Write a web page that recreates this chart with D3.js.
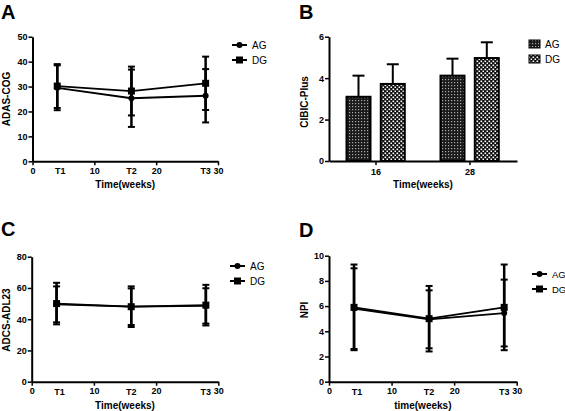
<!DOCTYPE html>
<html><head><meta charset="utf-8">
<script src="https://cdn.jsdelivr.net/npm/d3@7"></script>
<style>
body{margin:0;background:#fff;}
svg{display:block;font-family:"Liberation Sans",Arial,sans-serif;}
.tick text{font-weight:bold;font-size:9px;fill:#000;}
</style></head>
<body>
<script>
// ---- data ----
const weeks = [4, 16, 28];
const timeLabels = ["T1", "T2", "T3"];
const xTicks = [0, 10, 20, 30];
const seriesNames = ["AG", "DG"];

const adasAG = [29.5, 25.3, 26.3];
const adasAGerr = [9.0, 11.5, 10.7];
const adasDG = [30.2, 28.2, 31.3];
const adasDGerr = [8.8, 9.8, 10.7];

const adcsAG = [49.5, 48.0, 48.5];
const adcsAGerr = [11.5, 11.7, 11.3];
const adcsDG = [50.0, 48.0, 49.0];
const adcsDGerr = [13.3, 13.0, 13.0];

const npiAG = [5.8, 4.95, 5.45];
const npiAGerr = [3.2, 2.3, 2.65];
const npiDG = [5.9, 5.0, 5.9];
const npiDGerr = [3.4, 2.6, 3.4];

const cibicGroups = ["16", "28"];
const cibicAG = [3.1, 4.12];
const cibicAGerr = [1.02, 0.82];
const cibicDG = [3.72, 4.97];
const cibicDGerr = [0.95, 0.76];

const svg = d3.select("body").append("svg").attr("width", 565).attr("height", 411);

// patterns
const defs = svg.append("defs");
const pA = defs.append("pattern").attr("id", "patAG").attr("patternUnits", "userSpaceOnUse").attr("width", 3).attr("height", 3);
pA.append("rect").attr("width", 3).attr("height", 3).attr("fill", "#1a1a1a");
pA.append("rect").attr("x", 1).attr("y", 1).attr("width", 1.2).attr("height", 1.2).attr("fill", "#aaa");
const pD = defs.append("pattern").attr("id", "patDG").attr("patternUnits", "userSpaceOnUse").attr("width", 4).attr("height", 4);
pD.append("rect").attr("width", 4).attr("height", 4).attr("fill", "#111");
pD.append("rect").attr("x", 0.5).attr("y", 0.5).attr("width", 1.6).attr("height", 1.6).attr("fill", "#fff");
pD.append("rect").attr("x", 2.5).attr("y", 2.5).attr("width", 1.6).attr("height", 1.6).attr("fill", "#fff");

function styleAxis(g) {
  g.selectAll(".domain").attr("stroke", "#000").attr("stroke-width", 2);
  g.selectAll(".tick line").attr("stroke", "#000").attr("stroke-width", 1.5);
}

function title(letter, x, y) {
  svg.append("text").attr("x", x).attr("y", y).text(letter)
    .attr("font-size", 20).attr("font-weight", "bold");
}

function yLabel(txt, x, y) {
  svg.append("text").attr("transform", `translate(${x},${y}) rotate(-90)`)
    .attr("text-anchor", "middle").attr("font-size", 10).attr("font-weight", "bold").text(txt);
}

function linePanel(opt) {
  const x = d3.scaleLinear().domain([0, 30]).range(opt.xr);
  const y = d3.scaleLinear().domain([0, opt.ymax]).range(opt.yr);
  const g = svg.append("g");
  const ya = g.append("g").attr("transform", `translate(${opt.xr[0]},0)`)
    .call(d3.axisLeft(y).tickValues(opt.yticks).tickSize(4).tickPadding(1).tickSizeOuter(0));
  styleAxis(ya);
  const xa = g.append("g").attr("transform", `translate(0,${opt.yr[0]})`)
    .call(d3.axisBottom(x).tickValues(xTicks).tickSize(4).tickPadding(2).tickSizeOuter(0));
  styleAxis(xa);
  g.selectAll(".tl").data(weeks).enter().append("text")
    .attr("x", (d, i) => x(d) + (i === 0 ? 3 : 0)).attr("y", opt.yr[0] + 13)
    .attr("text-anchor", "middle").attr("font-size", 9).attr("font-weight", "bold")
    .text((d, i) => timeLabels[i]);
  g.append("text").attr("x", (opt.xr[0] + opt.xr[1]) / 2).attr("y", opt.yr[0] + 27)
    .attr("text-anchor", "middle").attr("font-size", 10).attr("font-weight", "bold").text(opt.xlabel);

  const series = [
    {name: "AG", v: opt.ag, e: opt.agErr, marker: "circle"},
    {name: "DG", v: opt.dg, e: opt.dgErr, marker: "square"}
  ];
  const line = d3.line().x((d, i) => x(weeks[i])).y(d => y(d));
  series.forEach(s => {
    s.v.forEach((v, i) => {
      const cx = x(weeks[i]);
      g.append("line").attr("x1", cx).attr("x2", cx).attr("y1", y(v + s.e[i])).attr("y2", y(v - s.e[i]))
        .attr("stroke", "#000").attr("stroke-width", 2.5);
      [v + s.e[i], v - s.e[i]].forEach(ev => {
        g.append("line").attr("x1", cx - 3.5).attr("x2", cx + 3.5).attr("y1", y(ev)).attr("y2", y(ev))
          .attr("stroke", "#000").attr("stroke-width", 2);
      });
    });
    g.append("path").datum(s.v).attr("d", line).attr("fill", "none").attr("stroke", "#000").attr("stroke-width", 1.8);
    s.v.forEach((v, i) => {
      if (s.marker === "circle") {
        g.append("circle").attr("cx", x(weeks[i])).attr("cy", y(v)).attr("r", 3).attr("fill", "#000");
      } else {
        g.append("rect").attr("x", x(weeks[i]) - 3.5).attr("y", y(v) - 3.5).attr("width", 7).attr("height", 7).attr("fill", "#000");
      }
    });
  });
  series.forEach((s, i) => {
    const ly = opt.leg[1] + i * 15;
    g.append("line").attr("x1", opt.leg[0]).attr("x2", opt.leg[0] + 15).attr("y1", ly).attr("y2", ly)
      .attr("stroke", "#000").attr("stroke-width", 2);
    const mx = opt.leg[0] + 7.5;
    if (s.marker === "circle") g.append("circle").attr("cx", mx).attr("cy", ly).attr("r", 3).attr("fill", "#000");
    else g.append("rect").attr("x", mx - 3.5).attr("y", ly - 3.5).attr("width", 7).attr("height", 7).attr("fill", "#000");
    g.append("text").attr("x", opt.leg[0] + 20).attr("y", ly + 3.5).attr("font-size", opt.legFont || 10).text(s.name);
  });
}

// Panel A
title("A", 1, 19);
yLabel("ADAS-COG", 10, 99);
linePanel({xr: [32.5, 218], yr: [161.3, 36.7], ymax: 50, yticks: [0, 10, 20, 30, 40, 50],
  ag: adasAG, agErr: adasAGerr, dg: adasDG, dgErr: adasDGerr, leg: [232, 45], xlabel: "Time(weeks)"});

// Panel C
title("C", 1, 236);
yLabel("ADCS-ADL23", 10, 320);
linePanel({xr: [31.7, 218.3], yr: [381.7, 256.7], ymax: 80, yticks: [0, 20, 40, 60, 80],
  ag: adcsAG, agErr: adcsAGerr, dg: adcsDG, dgErr: adcsDGerr, leg: [230, 266], xlabel: "Time(weeks)"});

// Panel D
title("D", 299, 237);
yLabel("NPI", 308, 310);
linePanel({xr: [329, 516.7], yr: [381.7, 255.7], ymax: 10, yticks: [0, 2, 4, 6, 8, 10],
  ag: npiAG, agErr: npiAGerr, dg: npiDG, dgErr: npiDGerr, leg: [532, 274], legFont: 9.5, xlabel: "time(weeks)"});

// Panel B
title("B", 299, 19);
yLabel("CIBIC-Plus", 308, 102);
{
  const x0 = d3.scaleBand().domain(cibicGroups).range([329, 517]).paddingInner(0).paddingOuter(0);
  const x1 = d3.scaleBand().domain(seriesNames).range([17.5, 75.8]).paddingInner(0.3).paddingOuter(0);
  const y = d3.scaleLinear().domain([0, 6]).range([161, 36.7]);
  const g = svg.append("g");
  const series = [
    {name: "AG", v: cibicAG, e: cibicAGerr, fill: "url(#patAG)"},
    {name: "DG", v: cibicDG, e: cibicDGerr, fill: "url(#patDG)"}
  ];
  series.forEach(s => {
    cibicGroups.forEach((grp, i) => {
      const bx = x0(grp) + x1(s.name);
      const bw = x1.bandwidth();
      const cx = bx + bw / 2;
      g.append("line").attr("x1", cx).attr("x2", cx).attr("y1", y(s.v[i])).attr("y2", y(s.v[i] + s.e[i]))
        .attr("stroke", "#000").attr("stroke-width", 2);
      g.append("line").attr("x1", cx - 6).attr("x2", cx + 6).attr("y1", y(s.v[i] + s.e[i])).attr("y2", y(s.v[i] + s.e[i]))
        .attr("stroke", "#000").attr("stroke-width", 2);
      g.append("rect").attr("x", bx).attr("y", y(s.v[i])).attr("width", bw).attr("height", y(0) - y(s.v[i]))
        .attr("fill", s.fill).attr("stroke", "#000").attr("stroke-width", 2);
    });
  });
  const ya = g.append("g").attr("transform", "translate(329,0)")
    .call(d3.axisLeft(y).tickValues([0, 2, 4, 6]).tickFormat(d3.format("d")).tickSize(4).tickPadding(1).tickSizeOuter(0));
  styleAxis(ya);
  const xa = g.append("g").attr("transform", "translate(0,161)")
    .call(d3.axisBottom(x0).tickSize(4).tickPadding(4).tickSizeOuter(0));
  styleAxis(xa);
  xa.selectAll(".tick text").attr("font-weight", "normal").attr("font-size", 11);
  g.append("text").attr("x", 423).attr("y", 188).attr("text-anchor", "middle")
    .attr("font-size", 10).attr("font-weight", "bold").text("Time(weeks)");
  series.forEach((s, i) => {
    const ly = 44 + i * 15;
    g.append("rect").attr("x", 529).attr("y", ly - 4).attr("width", 11).attr("height", 8)
      .attr("fill", s.fill).attr("stroke", "#000").attr("stroke-width", 1);
    g.append("text").attr("x", 545).attr("y", ly + 3.5).attr("font-size", 10).text(s.name);
  });
}
</script>
</body></html>
